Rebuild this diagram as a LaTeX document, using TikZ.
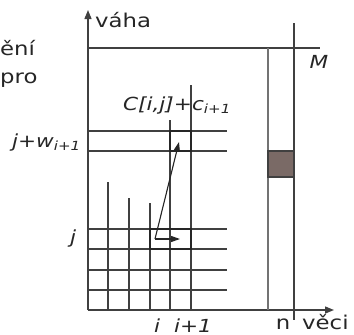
\documentclass[tikz,border=0pt]{standalone}
\usepackage{fontspec}
\setmainfont[FakeStretch=1.2]{DejaVu Sans}
\usetikzlibrary{arrows.meta}

\begin{document}
\begin{tikzpicture}[x=1pt,y=-1pt,
  grid/.style={draw=black!75,line width=1.4pt},
  cell/.style={draw=black!85,line width=2.3pt},
  axis/.style={-{Triangle[length=9pt,width=7pt]},line width=1.4pt,draw=black!75,fill=black!75},
  arr/.style={-{Triangle[length=9pt,width=6pt]},line width=1.1pt,draw=black!85,fill=black!85},
  lab/.style={font=\fontsize{18}{21}\selectfont\itshape,inner sep=0pt,text=black!85},
  txt/.style={font=\fontsize{19}{22}\selectfont,inner sep=0pt,text=black!85}
]
\useasboundingbox (0,0) rectangle (354,335);
% axes
\coordinate (orig) at (88,310);
\coordinate (wtop) at (88,10);
\coordinate (xend) at (334,310);
\draw[axis] (orig) -- (wtop);
\draw[axis] (orig) -- (xend);
% table rows and columns
\foreach \y in {131,151,229,249,270,290}
  \draw[grid] (88,\y) -- (227,\y);
\foreach \x/\t in {108/182,129/198,150/203,170/120,191/85}
  \draw[grid] (\x,\t) -- (\x,310);
\draw[grid] (88,48) -- (320,48);
\draw[grid,draw=black!55] (268,48) -- (268,310);
\draw[grid] (294,23) -- (294,320);
\filldraw[fill={rgb,255:red,122;green,106;blue,102},draw=black!75,line width=1.5pt]
  (268,151) rectangle (294,177);
% cells
\draw[cell] (170,131) rectangle (191,151);
\draw[cell] (150,229) rectangle (191,249);
\coordinate (from) at (155,239);
\coordinate (up) at (179,142);
\coordinate (right) at (180,239);
\draw[arr] (from) -- (up);
\draw[arr] (from) -- (right);
% labels
\node[txt,anchor=base west] (vaha) at (95,27) {váha};
\node[lab] (M) at (319,62) {M};
\node[lab,anchor=base] (cij) at (177,110) {C[i,j]+c\textsubscript{i+1}};
\node[lab,anchor=base east] (jw) at (81,147) {j+w\textsubscript{i+1}};
\node[lab] (j) at (73,239) {j};
\node[lab,anchor=base] (i) at (157,332) {i};
\node[lab,anchor=base] (inext) at (193,332) {i+1};
\node[txt,anchor=base] (n) at (283,329) {n};
\node[txt,anchor=base west] (veci) at (302,329) {věci};
\node[txt,anchor=base west] (line1) at (0,55) {ění};
\node[txt,anchor=base west] (line2) at (0,83) {pro};
\end{tikzpicture}
\end{document}
